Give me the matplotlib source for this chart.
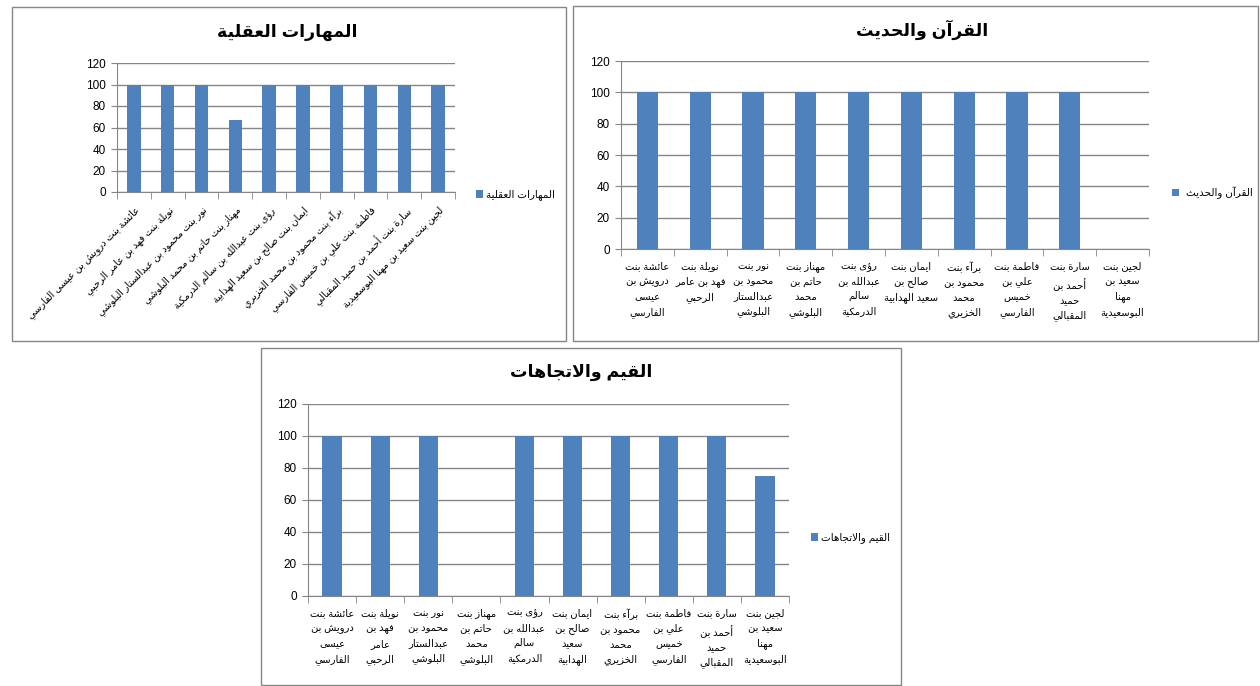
import matplotlib
matplotlib.use("Agg")
import matplotlib.pyplot as plt
from matplotlib.patches import Rectangle, Patch

plt.rcParams['font.family'] = ['Liberation Sans', 'DejaVu Sans']

# ---- data --------------------------------------------------------------
names = [
    "عائشة بنت درويش بن عيسى الفارسي",
    "نويلة بنت فهد بن عامر الرحبي",
    "نور بنت محمود بن عبدالستار البلوشي",
    "مهناز بنت حاتم بن محمد البلوشي",
    "رؤى بنت عبدالله بن سالم الدرمكية",
    "ايمان بنت صالح بن سعيد الهدابية",
    "برآء بنت محمود بن محمد الخزيري",
    "فاطمة بنت علي بن خميس الفارسي",
    "سارة بنت أحمد بن حميد المقبالي",
    "لجين بنت سعيد بن مهنا البوسعيدية",
]

labels_quran = [
    "عائشة بنت\nدرويش بن\nعيسى\nالفارسي",
    "نويلة بنت\nفهد بن عامر\nالرحبي",
    "نور بنت\nمحمود بن\nعبدالستار\nالبلوشي",
    "مهناز بنت\nحاتم بن\nمحمد\nالبلوشي",
    "رؤى بنت\nعبدالله بن\nسالم\nالدرمكية",
    "ايمان بنت\nصالح بن\nسعيد الهدابية",
    "برآء بنت\nمحمود بن\nمحمد\nالخزيري",
    "فاطمة بنت\nعلي بن\nخميس\nالفارسي",
    "سارة بنت\nأحمد بن\nحميد\nالمقبالي",
    "لجين بنت\nسعيد بن\nمهنا\nالبوسعيدية",
]

labels_values = [
    "عائشة بنت\nدرويش بن\nعيسى\nالفارسي",
    "نويلة بنت\nفهد بن\nعامر\nالرحبي",
    "نور بنت\nمحمود بن\nعبدالستار\nالبلوشي",
    "مهناز بنت\nحاتم بن\nمحمد\nالبلوشي",
    "رؤى بنت\nعبدالله بن\nسالم\nالدرمكية",
    "ايمان بنت\nصالح بن\nسعيد\nالهدابية",
    "برآء بنت\nمحمود بن\nمحمد\nالخزيري",
    "فاطمة بنت\nعلي بن\nخميس\nالفارسي",
    "سارة بنت\nأحمد بن\nحميد\nالمقبالي",
    "لجين بنت\nسعيد بن\nمهنا\nالبوسعيدية",
]

title_mental = "المهارات العقلية"
title_quran = "القرآن والحديث"
title_values = "القيم والاتجاهات"

scores_mental = [100, 100, 100, 67, 100, 100, 100, 100, 100, 100]
scores_quran = [100, 100, 100, 100, 100, 100, 100, 100, 100, 0]
scores_values = [100, 100, 100, 0, 100, 100, 100, 100, 100, 75]

y_ticks = [0, 20, 40, 60, 80, 100, 120]

# ---- simple arabic shaping (matplotlib has no bidi / joining) ----------
RIGHT = {'آ': 0xFE81, 'أ': 0xFE83, 'ؤ': 0xFE85, 'إ': 0xFE87, 'ا': 0xFE8D,
         'ة': 0xFE93, 'د': 0xFEA9, 'ذ': 0xFEAB, 'ر': 0xFEAD, 'ز': 0xFEAF,
         'و': 0xFEED, 'ى': 0xFEEF}
DUAL = {'ئ': 0xFE89, 'ب': 0xFE8F, 'ت': 0xFE95, 'ث': 0xFE99, 'ج': 0xFE9D,
        'ح': 0xFEA1, 'خ': 0xFEA5, 'س': 0xFEB1, 'ش': 0xFEB5, 'ص': 0xFEB9,
        'ض': 0xFEBD, 'ط': 0xFEC1, 'ظ': 0xFEC5, 'ع': 0xFEC9, 'غ': 0xFECD,
        'ف': 0xFED1, 'ق': 0xFED5, 'ك': 0xFED9, 'ل': 0xFEDD, 'م': 0xFEE1,
        'ن': 0xFEE5, 'ه': 0xFEE9, 'ي': 0xFEF1}
LAM_ALEF = {'آ': 0xFEF5, 'أ': 0xFEF7, 'إ': 0xFEF9, 'ا': 0xFEFB}


def shape_line(s):
    toks = []
    i = 0
    while i < len(s):
        c = s[i]
        if c == 'ل' and i + 1 < len(s) and s[i + 1] in LAM_ALEF:
            toks.append(('L', LAM_ALEF[s[i + 1]]))
            i += 2
            continue
        if c in DUAL:
            toks.append(('D', DUAL[c]))
        elif c in RIGHT:
            toks.append(('R', RIGHT[c]))
        else:
            toks.append(('N', c))
        i += 1
    out = []
    for k, (t, v) in enumerate(toks):
        if t == 'N':
            out.append(v)
            continue
        prev_j = k > 0 and toks[k - 1][0] == 'D'
        if t in 'LR':
            out.append(chr(v + (1 if prev_j else 0)))
            continue
        next_j = k + 1 < len(toks) and toks[k + 1][0] in 'DRL'
        off = {(False, False): 0, (True, False): 1,
               (False, True): 2, (True, True): 3}[(prev_j, next_j)]
        out.append(chr(v + off))
    return ''.join(reversed(out))


def ar(s):
    return '\n'.join(shape_line(line) for line in s.split('\n'))


# ---- layout helpers ----------------------------------------------------
W, H = 1260, 686
BLUE = '#4F81BD'
GRAY = '#868686'


def box(l, t, r, b):
    return [l / W, 1 - b / H, (r - l) / W, (b - t) / H]


fig = plt.figure(figsize=(W / 100, H / 100), dpi=100)


def panel(l, t, r, b):
    fig.patches.append(Rectangle((l / W, 1 - b / H), (r - l) / W, (b - t) / H,
                                 transform=fig.transFigure, fill=False,
                                 edgecolor=GRAY, linewidth=1.0))


def chart(axbox, values, labels, title, title_xy, leg_xy, rotate=False, textpad=0.3):
    ax = fig.add_axes(box(*axbox))
    x = list(range(len(values)))
    ax.bar(x, values, width=0.4, color=BLUE, zorder=3)
    ax.set_xlim(-0.5, len(values) - 0.5)
    ax.set_ylim(0, 120)
    ax.set_yticks(y_ticks)
    ax.yaxis.grid(True, color=GRAY, linewidth=1.0, zorder=0)
    for s in ('top', 'right'):
        ax.spines[s].set_visible(False)
    for s in ('left', 'bottom'):
        ax.spines[s].set_color(GRAY)
    ax.tick_params(axis='y', length=4, color=GRAY, labelsize=8.5, pad=4)
    ax.set_xticks(x)
    ax.set_xticks([i - 0.5 for i in range(len(values) + 1)], minor=True)
    ax.tick_params(axis='x', which='major', length=0)
    ax.tick_params(axis='x', which='minor', length=5, color=GRAY)
    if rotate:
        ax.set_xticklabels([ar(s) for s in labels], rotation=45, ha='right',
                           rotation_mode='anchor', fontsize=7)
        ax.tick_params(axis='x', which='major', pad=9)
    else:
        ax.set_xticklabels([ar(s) for s in labels], fontsize=7.2,
                           linespacing=1.6, multialignment='center')
        ax.tick_params(axis='x', which='major', pad=9)
    fig.text(title_xy[0] / W, 1 - title_xy[1] / H, ar(title), ha='center',
             va='center', fontsize=12.5, fontweight='bold')
    fig.legend(handles=[Patch(facecolor=BLUE)], labels=[ar(title)],
               loc='center left', bbox_to_anchor=(leg_xy[0] / W, 1 - leg_xy[1] / H),
               frameon=False, handlelength=0.7, handleheight=0.7,
               handletextpad=textpad, borderpad=0, borderaxespad=0, fontsize=7.5)
    return ax


panel(12, 7, 566, 341)
panel(573, 6, 1258, 341)
panel(261, 348, 901, 685)

chart((117, 63, 455, 192), scores_mental, names, title_mental,
      (287, 32), (476, 195), rotate=True)
chart((621, 61, 1149, 249), scores_quran, labels_quran, title_quran,
      (922, 30), (1172, 193), textpad=0.6)
chart((308, 404, 789, 596), scores_values, labels_values, title_values,
      (581, 372), (811, 538))

fig.savefig('out.png', dpi=100)
